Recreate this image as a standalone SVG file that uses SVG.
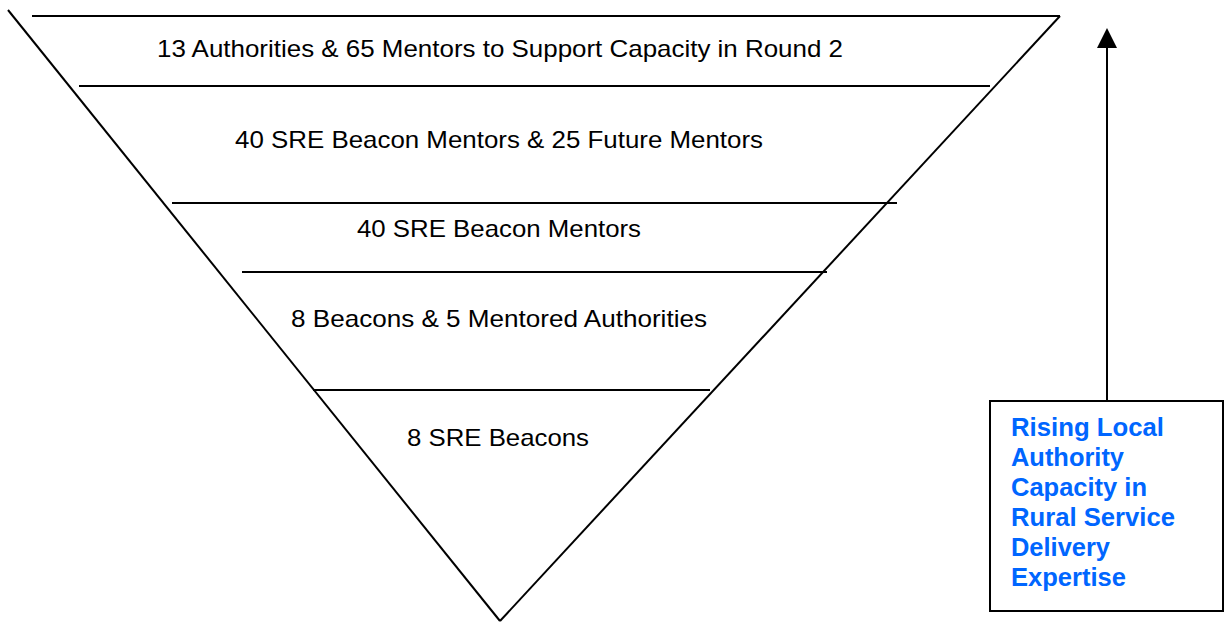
<svg xmlns="http://www.w3.org/2000/svg" width="1230" height="623" viewBox="0 0 1230 623">
<style>
.ln{stroke:#000;stroke-width:2;fill:none}
.lbl{font-family:"Liberation Sans",Arial,sans-serif;font-size:24px;fill:#000}
.blue{font-family:"Liberation Sans",Arial,sans-serif;font-size:25px;font-weight:bold;fill:#0066ff}
</style>
<rect width="1230" height="623" fill="#fff"/>
<g id="pyramid">
<line class="ln" x1="8" y1="10" x2="500" y2="621"/>
<line class="ln" x1="1060" y1="16" x2="500" y2="621"/>
<line class="ln" x1="32" y1="16" x2="1060" y2="16"/>
<line class="ln" x1="79" y1="86" x2="990" y2="86"/>
<line class="ln" x1="172" y1="203" x2="897" y2="203"/>
<line class="ln" x1="242" y1="272" x2="827" y2="272"/>
<line class="ln" x1="313" y1="390" x2="710" y2="390"/>
</g>
<g id="tier1"><text class="lbl" x="157" y="57" textLength="686" lengthAdjust="spacingAndGlyphs">13 Authorities &amp; 65 Mentors to Support Capacity in Round 2</text></g>
<g id="tier2"><text class="lbl" x="235" y="148" textLength="528" lengthAdjust="spacingAndGlyphs">40 SRE Beacon Mentors &amp; 25 Future Mentors</text></g>
<g id="tier3"><text class="lbl" x="357" y="237" textLength="284" lengthAdjust="spacingAndGlyphs">40 SRE Beacon Mentors</text></g>
<g id="tier4"><text class="lbl" x="291" y="327" textLength="416" lengthAdjust="spacingAndGlyphs">8 Beacons &amp; 5 Mentored Authorities</text></g>
<g id="tier5"><text class="lbl" x="407" y="446" textLength="182" lengthAdjust="spacingAndGlyphs">8 SRE Beacons</text></g>
<g id="connectors">
<line class="ln" x1="1107" y1="401" x2="1107" y2="46"/>
<polygon points="1107,28 1097,48 1117,48" fill="#000"/>
</g>
<g id="capacity-box">
<rect x="990" y="401" width="233" height="210" fill="#fff" stroke="#000" stroke-width="2"/>
<text class="blue" x="1011" y="436" textLength="153" lengthAdjust="spacingAndGlyphs">Rising Local</text>
<text class="blue" x="1011" y="466" textLength="113" lengthAdjust="spacingAndGlyphs">Authority</text>
<text class="blue" x="1011" y="496" textLength="136" lengthAdjust="spacingAndGlyphs">Capacity in</text>
<text class="blue" x="1011" y="526" textLength="164" lengthAdjust="spacingAndGlyphs">Rural Service</text>
<text class="blue" x="1011" y="556" textLength="99" lengthAdjust="spacingAndGlyphs">Delivery</text>
<text class="blue" x="1011" y="586" textLength="115" lengthAdjust="spacingAndGlyphs">Expertise</text>
</g>
</svg>
